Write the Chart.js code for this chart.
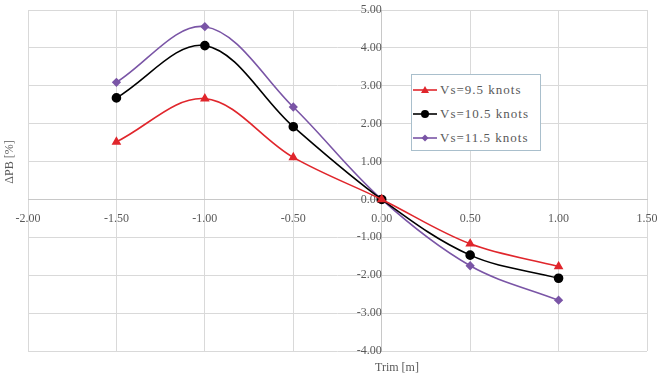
<!DOCTYPE html>
<html><head><meta charset="utf-8">
<script src="https://cdn.jsdelivr.net/npm/chart.js@4"></script>
<style>
html,body{margin:0;padding:0;background:#fff;}
#wrap{position:relative;width:663px;height:381px;}
#legend{position:absolute;left:411px;top:74px;width:128px;height:75px;border:1px solid #a9bfcc;background:#fff;font-family:"Liberation Serif","Times New Roman",serif;font-size:13px;letter-spacing:1px;color:#595959;}
.item{position:absolute;left:0;height:20px;display:flex;align-items:center;white-space:nowrap;}
.item svg{margin-right:2px;}
</style>
</head><body>
<div id="wrap"><canvas id="c" width="663" height="381"></canvas><div id="legend"></div></div>
<script>
const trims = [-1.5, -1.0, -0.5, 0.0, 0.5, 1.0];
const vs95 = [1.52, 2.66, 1.11, 0.0, -1.17, -1.77];
const vs105 = [2.68, 4.06, 1.92, 0.0, -1.47, -2.08];
const vs115 = [3.09, 4.56, 2.44, 0.0, -1.75, -2.66];
const seriesNames = ['Vs=9.5 knots', 'Vs=10.5 knots', 'Vs=11.5 knots'];
const xTitle = 'Trim [m]';
const yTitle = 'ΔPB [%]';

const colors = ['#e0262c', '#000000', '#7a55a6'];
const shapes = ['triangle', 'circle', 'rectRot'];
const radii = [4, 4, 3.5];
const seriesValues = [vs95, vs105, vs115];

const datasets = seriesValues.map((vals, i) => ({
  label: seriesNames[i],
  data: trims.map((t, j) => ({x: t, y: vals[j]})),
  borderColor: colors[i],
  backgroundColor: colors[i],
  pointBackgroundColor: colors[i],
  pointBorderColor: colors[i],
  pointStyle: shapes[i],
  pointRadius: radii[i],
  borderWidth: 1.6,
  tension: 0.35,
  fill: false
}));

const tickFont = {family: '"Liberation Serif", "Times New Roman", serif', size: 12};
const axisTitles = {
  id: 'axisTitles',
  afterDraw(chart) {
    const ctx = chart.ctx;
    ctx.save();
    ctx.fillStyle = '#595959';
    ctx.font = '12px "Liberation Serif", "Times New Roman", serif';
    ctx.textAlign = 'center';
    ctx.textBaseline = 'middle';
    ctx.fillText(xTitle, 397, 368);
    ctx.translate(10, 162);
    ctx.rotate(-Math.PI / 2);
    ctx.fillText(yTitle, 0, 0);
    ctx.restore();
  }
};

new Chart(document.getElementById('c'), {
  type: 'line',
  data: {datasets},
  options: {
    responsive: false,
    animation: false,
    layout: {padding: {left: 28, right: 16, top: 10, bottom: 30}},
    plugins: {legend: {display: false}, tooltip: {enabled: false}},
    scales: {
      x: {
        type: 'linear', min: -2, max: 1.5,
        position: {y: 0},
        afterFit(s) { s.height = 0; s.paddingLeft = 0; s.paddingRight = 0; s.paddingTop = 0; s.paddingBottom = 0; },
        grid: {color: '#d9d9d9', lineWidth: 1, drawTicks: false},
        border: {color: '#c8c8c8'},
        ticks: {stepSize: 0.5, padding: 12, color: '#595959', font: tickFont, maxRotation: 0,
          callback: v => Number(v).toFixed(2)}
      },
      y: {
        type: 'linear', min: -4, max: 5,
        position: {x: 0},
        afterFit(s) { s.width = 0; s.paddingLeft = 0; s.paddingRight = 0; s.paddingTop = 0; s.paddingBottom = 0; },
        grid: {color: '#d9d9d9', lineWidth: 1, drawTicks: false},
        border: {color: '#c8c8c8'},
        ticks: {stepSize: 1, padding: 16, color: '#595959', font: tickFont,
          callback: v => Number(v).toFixed(2)}
      }
    }
  },
  plugins: [axisTitles]
});

const legend = document.getElementById('legend');
const tops = [5, 29, 53];
seriesNames.forEach((name, i) => {
  const d = document.createElement('div');
  d.className = 'item';
  d.style.top = tops[i] + 'px';
  let marker;
  if (shapes[i] === 'triangle') marker = '<polygon points="13,2 17,9 9,9" fill="' + colors[i] + '"/>';
  else if (shapes[i] === 'circle') marker = '<circle cx="13" cy="6" r="4" fill="' + colors[i] + '"/>';
  else marker = '<polygon points="13,2.5 16.5,6 13,9.5 9.5,6" fill="' + colors[i] + '"/>';
  d.innerHTML = '<svg width="26" height="12"><line x1="1" y1="6" x2="25" y2="6" stroke="' + colors[i] + '" stroke-width="1.6"/>' + marker + '</svg><span>' + name + '</span>';
  legend.appendChild(d);
});
</script>
</body></html>
